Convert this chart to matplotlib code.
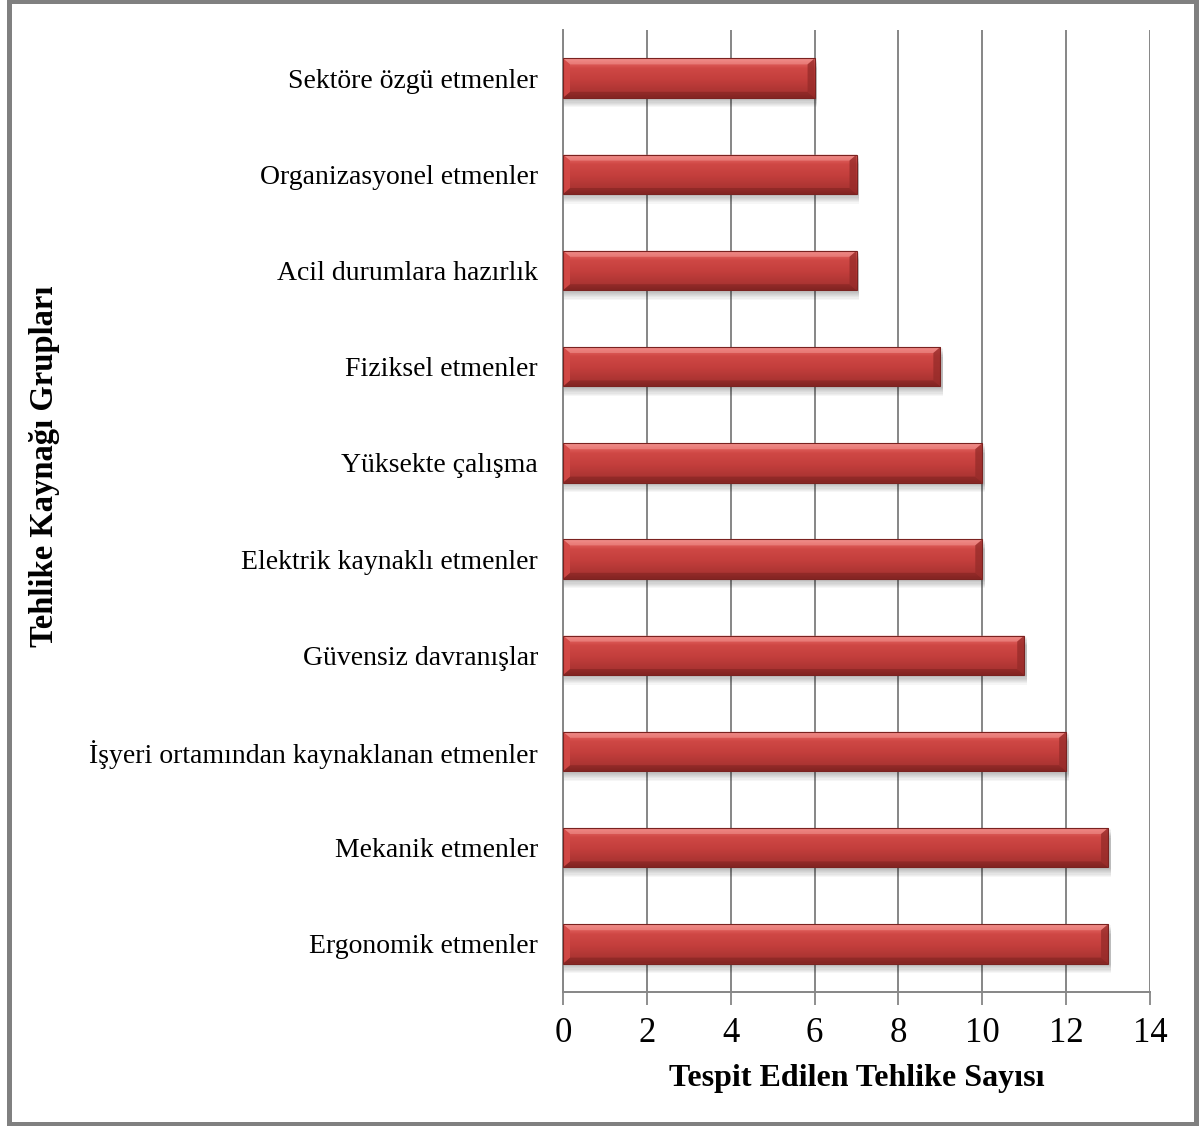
import numpy as np
import matplotlib
matplotlib.use("Agg")
import matplotlib.pyplot as plt
from matplotlib.patches import Rectangle, Polygon
from matplotlib.colors import LinearSegmentedColormap

plt.rcParams['font.family'] = ['Liberation Serif', 'DejaVu Serif']

categories = [
    "Ergonomik etmenler",
    "Mekanik etmenler",
    "İşyeri ortamından kaynaklanan etmenler",
    "Güvensiz davranışlar",
    "Elektrik kaynaklı etmenler",
    "Yüksekte çalışma",
    "Fiziksel etmenler",
    "Acil durumlara hazırlık",
    "Organizasyonel etmenler",
    "Sektöre özgü etmenler",
]
counts = [13, 13, 12, 11, 10, 10, 9, 7, 7, 6]
x_ticks = [0, 2, 4, 6, 8, 10, 12, 14]
x_label = "Tespit Edilen Tehlike Sayısı"
y_label = "Tehlike Kaynağı Grupları"

W, H, DPI = 1200, 1126, 100
fig = plt.figure(figsize=(W / DPI, H / DPI), dpi=DPI)
ax = fig.add_axes([563 / W, 1 - 992 / H, (1150 - 563) / W, (992 - 30) / H])

ypos = np.arange(len(categories))
bar_h = 0.41
bars = ax.barh(ypos, counts, height=bar_h, color='none', edgecolor='none', zorder=3)

ax.set_xlim(0, 14)
ax.set_ylim(-0.5, len(categories) - 0.5)

# pixel -> data unit conversion
px_x = 14 / (1150 - 563)
px_y = len(categories) / (992 - 30)

body = LinearSegmentedColormap.from_list(
    "body", [(0.0, "#8f2a28"), (0.12, "#a83331"), (0.45, "#c33e3c"),
             (0.75, "#cf4845"), (0.9, "#e46461"), (1.0, "#f08a86")])
grad = np.linspace(0, 1, 256).reshape(-1, 1)

for p in bars.patches:
    x0, y0 = p.get_x(), p.get_y()
    w, h = p.get_width(), p.get_height()
    x1, y1 = x0 + w, y0 + h
    # soft drop shadow
    for k in range(8):
        off = (k + 1) * 1.2
        ax.add_patch(Rectangle((x0 + 1 * px_x, y0 - off * px_y),
                               w + 1.5 * px_x, h,
                               facecolor="#000000", alpha=0.035, lw=0, zorder=2))
    im = ax.imshow(grad, aspect='auto', cmap=body, origin='lower',
                   extent=(x0, x1, y0, y1), zorder=3, interpolation='bicubic')
    im.set_clip_path(p)
    # bevelled edges
    bx, by = 7 * px_x, 6 * px_y
    ax.add_patch(Polygon([(x0, y1), (x1, y1), (x1 - bx, y1 - by), (x0 + bx, y1 - by)],
                         closed=True, facecolor="#f39b97", alpha=0.5, lw=0, zorder=4))
    ax.add_patch(Polygon([(x0, y0), (x1, y0), (x1 - bx, y0 + by), (x0 + bx, y0 + by)],
                         closed=True, facecolor="#6e1c1a", alpha=0.4, lw=0, zorder=4))
    ax.add_patch(Polygon([(x0, y0), (x0, y1), (x0 + bx, y1 - by), (x0 + bx, y0 + by)],
                         closed=True, facecolor="#d44a47", alpha=0.9, lw=0, zorder=4))
    ax.add_patch(Polygon([(x1, y0), (x1, y1), (x1 - bx, y1 - by), (x1 - bx, y0 + by)],
                         closed=True, facecolor="#952b29", alpha=0.75, lw=0, zorder=4))
    ax.add_patch(Rectangle((x0, y0), w, h, facecolor='none',
                           edgecolor="#7a2220", lw=0.8, zorder=5))

ax.set_xticks(x_ticks)
ax.set_xticklabels([str(t) for t in x_ticks], fontsize=25)
ax.set_yticks(ypos)
ax.set_yticklabels(categories, fontsize=20)
ax.tick_params(axis='y', length=0, pad=18)
ax.tick_params(axis='x', length=9, width=1.3, color="#868686", pad=9, direction='out')

ax.grid(axis='x', color="#868686", lw=1.4, zorder=0)
ax.set_axisbelow(True)
for s in ['top', 'right']:
    ax.spines[s].set_visible(False)
for s in ['left', 'bottom']:
    ax.spines[s].set_color("#868686")
    ax.spines[s].set_linewidth(1.4)

ax.set_xlabel(x_label, fontsize=23, fontweight='bold', labelpad=10)
fig.text(45 / W, 1 - 466 / H, y_label, rotation=90, fontsize=23.5,
         fontweight='bold', ha='center', va='center')

# outer frame
fig.patches.append(Rectangle((8.5 / W, 1 - 1124 / H), (1195.5 - 8.5) / W, (1124 - 1) / H,
                             transform=fig.transFigure, facecolor='none',
                             edgecolor="#808080", lw=3.6, zorder=10))

fig.savefig("out.png", dpi=DPI)
